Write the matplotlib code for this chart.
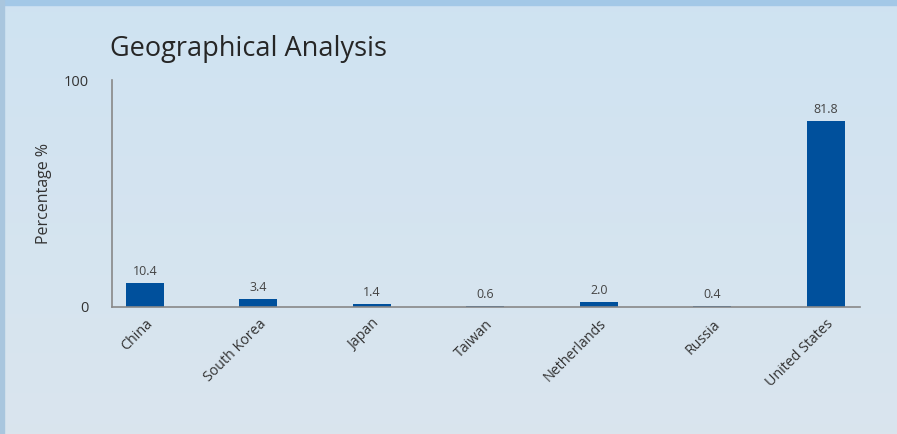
import matplotlib
matplotlib.use("Agg")
import matplotlib.pyplot as plt
import numpy as np
from matplotlib.patches import Rectangle

countries = ["China", "South Korea", "Japan", "Taiwan", "Netherlands", "Russia", "United States"]
percent = [10.4, 3.4, 1.4, 0.6, 2.0, 0.4, 81.8]

plt.rcParams['font.family'] = ['Open Sans', 'DejaVu Sans']

fig = plt.figure(figsize=(8.97, 4.34), dpi=100)

# background gradient + frame strips
bg = fig.add_axes([0, 0, 1, 1], zorder=-10)
grad = np.linspace(0, 1, 256).reshape(-1, 1)
top = np.array([0.812, 0.890, 0.949])
bot = np.array([0.855, 0.898, 0.933])
img = top[None, None, :] * (1 - grad[:, :, None]) + bot[None, None, :] * grad[:, :, None]
bg.imshow(img, aspect='auto', extent=[0, 1, 0, 1])
bg.axis('off')
fig.patches.append(Rectangle((0, 1 - 5 / 434), 1, 5 / 434, transform=fig.transFigure,
                             color='#a3c8e7', zorder=-5))
fig.patches.append(Rectangle((0, 0), 4 / 897, 1, transform=fig.transFigure,
                             color='#a9c6de', zorder=-5))

ax = fig.add_axes([112 / 897, (434 - 307) / 434, (860 - 112) / 897, (307 - 80) / 434])
ax.set_facecolor('none')
x = np.arange(len(countries))
bars = ax.bar(x, percent, width=0.335, color='#00509c')
for xi, v in zip(x, percent):
    ax.text(xi, v + 2.2, f"{v:.1f}", ha='center', va='bottom', fontsize=9, color='#444444')

ax.set_xlim(-0.29, 6.3)
ax.set_ylim(0, 100)
ax.set_yticks([0, 100])
ax.set_yticklabels(["0", "100"], fontsize=10.5, color='#333333')
ax.set_xticks(x)
ax.set_xticklabels(countries, rotation=45, ha='right', rotation_mode='anchor',
                   fontsize=10.3, color='#333333')
ax.tick_params(axis='both', length=0)
ax.tick_params(axis='y', pad=17)
ax.tick_params(axis='x', pad=7)
for s in ['top', 'right']:
    ax.spines[s].set_visible(False)
for s in ['left', 'bottom']:
    ax.spines[s].set_color('#888888')
    ax.spines[s].set_linewidth(1.2)

ax.set_ylabel("Percentage %", fontsize=11.5, color='#333333', labelpad=8)
fig.text(110 / 897, 1 - 49 / 434, "Geographical Analysis", fontsize=19.5, color='#262626',
         va='center', ha='left')

fig.savefig("out.png", dpi=100)
